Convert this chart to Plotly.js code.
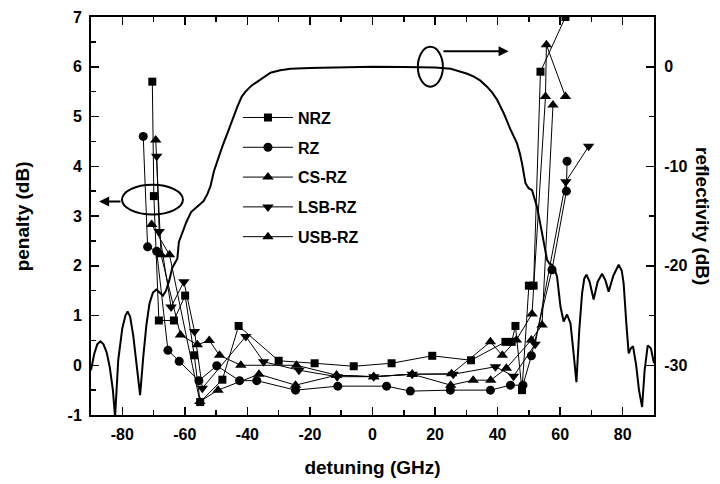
<!DOCTYPE html>
<html>
<head>
<meta charset="utf-8">
<script src="https://cdn.plot.ly/plotly-3.0.1.min.js"></script>
<style>html,body{margin:0;padding:0;background:#fff;}#chart{width:720px;height:484px;}</style>
</head>
<body>
<div id="chart"></div>
<script>
// ---- data ----
const reflX = [-90,-89,-88,-87,-86,-85,-84,-83,-82.3,-81.3,-80,-79,-78.3,-77.5,-76.5,-75.5,-74.3,-73.3,-72.3,-71.3,-70.2,-69.1,-68,-67,-66,-65,-64,-62.4,-61.9,-59.5,-58,-56,-54,-52.8,-51.8,-50.7,-49.6,-48,-46.4,-44.8,-43.2,-41.8,-40.6,-38.7,-36.8,-34.7,-32.6,-29.5,-26.2,-20,-10,0,10,20,25,28.1,30.3,32.4,34.5,36.6,38.3,39.8,42,44.1,46.2,47.1,47.8,48.9,49.9,51,52.6,54.2,55.8,56.6,57.4,58.2,59,60.1,61.1,62.2,63.3,64.2,65.2,66.1,67,67.7,68.4,69.4,70.7,72,73.4,74.5,75.5,77,78.7,79.7,80.3,81.2,81.9,82.6,83.3,84.3,85.2,86.2,87,88,89,90];
const reflY = [-30.5,-28.9,-27.9,-27.6,-27.9,-28.7,-30.2,-32.5,-35.2,-29.5,-26.3,-25.0,-24.6,-25.1,-27.0,-29.5,-33.0,-29.2,-26.0,-23.8,-22.7,-22.4,-22.7,-23.0,-22.5,-21.5,-20.2,-19.3,-17.6,-15.6,-14.6,-14.0,-13.5,-12.8,-12.0,-10.5,-9.4,-8.0,-6.7,-5.3,-4.0,-3.0,-2.5,-1.9,-1.5,-1.0,-0.6,-0.35,-0.2,-0.12,-0.05,0,-0.02,-0.08,-0.2,-0.5,-0.7,-1.0,-1.4,-2.0,-2.6,-3.3,-4.7,-6.3,-7.7,-8.7,-9.7,-11.7,-12.2,-12.4,-14.1,-16.7,-19.4,-19.8,-19.9,-20.3,-21.1,-24.1,-25.6,-24.9,-25.8,-28.5,-31.7,-26.5,-22.8,-21.3,-20.9,-21.6,-23.4,-21.6,-20.8,-21.5,-22.6,-21.0,-19.9,-20.5,-21.8,-26.0,-28.8,-28.3,-28.1,-30.0,-32.5,-34.2,-30.5,-28.0,-28.3,-29.8];

const nrzX = [-70.4,-69.9,-68.3,-63.5,-59.9,-57.0,-55.1,-48.0,-42.8,-30.0,-18.5,-6.0,6.1,19.1,31.5,42.5,44.5,45.7,47.8,50.0,51.5,53.7,61.7];
const nrzY = [5.7,3.4,0.9,0.9,1.4,0.2,-0.74,-0.29,0.79,0.09,0.04,-0.02,0.04,0.19,0.1,0.47,0.47,0.79,-0.5,1.6,1.6,5.9,7.0];

const rzX = [-73.3,-71.9,-69.0,-65.4,-61.8,-55.5,-49.8,-42.5,-37.0,-24.6,-11.1,4.5,12.1,24.9,37.7,44.1,48.1,50.8,57.4,62.0,62.2];
const rzY = [4.6,2.38,2.29,0.3,0.08,-0.31,-0.01,-0.31,-0.31,-0.5,-0.42,-0.42,-0.52,-0.5,-0.5,-0.4,-0.4,0.19,1.92,3.5,4.1];

const csrzX = [-69.3,-67.6,-61.4,-56.0,-52.2,-48.9,-42.1,-24.3,-11.5,0.4,12.7,25.3,37.7,41.5,46.0,51.0,55.3,55.6,61.7];
const csrzY = [4.53,2.22,0.61,0.41,0.5,0.2,0.0,0.0,-0.2,-0.23,-0.18,-0.17,0.47,0.2,0.51,1.03,5.4,6.44,5.4];

const lsbX = [-69.0,-68.2,-64.4,-60.3,-56.9,-54.4,-40.5,-34.8,-23.5,-11.3,0.4,12.7,25.8,39.3,45.1,52.0,61.8,69.1];
const lsbY = [4.2,2.69,1.17,1.68,0.68,-0.46,0.58,0.07,-0.1,-0.23,-0.23,-0.18,-0.18,-0.03,-0.22,0.42,3.69,4.4];

const usbX = [-70.6,-64.9,-55.2,-49.4,-36.3,-24.6,-11.5,0.4,12.7,25.0,32.2,37.8,42.8,50.8,54.2,57.7];
const usbY = [2.83,2.22,-0.73,-0.5,-0.18,-0.4,-0.2,-0.23,-0.18,-0.4,-0.3,-0.3,-0.06,0.51,0.81,5.23];

const seriesNames = ['NRZ','RZ','CS-RZ','LSB-RZ','USB-RZ'];
const leftTicks = [-1,0,1,2,3,4,5,6,7];
const leftTickText = ['-1','0','1','2','3','4','5','6','7'];
const rightTicks = [-30,-20,-10,0];
const rightTickText = ['-30','-20','-10','0'];
const xTicks = [-80,-60,-40,-20,0,20,40,60,80];
const xTickText = ['-80','-60','-40','-20','0','20','40','60','80'];

// ---- traces ----
const FONT = 'Liberation Sans, Arial, sans-serif';
function series(x, y, name, symbol, size, grp) {
  return {x: x, y: y, name: name, type: 'scatter', mode: 'lines+markers',
    line: {color: '#000', width: 1},
    marker: {symbol: symbol, size: size, color: '#000'},
    legendgroup: grp};
}
const traces = [
  {x: reflX, y: reflY, yaxis: 'y2', type: 'scatter', mode: 'lines',
   line: {color: '#000', width: 2}, showlegend: false, hoverinfo: 'skip'},
  series(nrzX, nrzY, seriesNames[0], 'square', 8, 'g1'),
  series(rzX, rzY, seriesNames[1], 'circle', 9, 'g2'),
  series(csrzX, csrzY, seriesNames[2], 'triangle-up', 10, 'g3'),
  series(lsbX, lsbY, seriesNames[3], 'triangle-down', 10, 'g4'),
  series(usbX, usbY, seriesNames[4], 'triangle-up', 10, 'g5')
];

const tickFont = {family: FONT, size: 16, color: '#000', weight: 'bold'};
const titleFont = {family: FONT, size: 19, color: '#000', weight: 'bold'};
const layout = {
  width: 720, height: 484,
  margin: {l: 91, r: 66, t: 17, b: 69},
  paper_bgcolor: '#fff', plot_bgcolor: '#fff',
  font: {family: FONT, color: '#000'},
  showlegend: true,
  legend: {x: 0.261, y: 0.79, xanchor: 'left', yanchor: 'top',
    bgcolor: 'rgba(0,0,0,0)', borderwidth: 0,
    font: {family: FONT, size: 16, color: '#000', weight: 'bold'},
    itemwidth: 50, traceorder: 'grouped', tracegroupgap: 6},
  xaxis: {range: [-90, 90], tickmode: 'array', tickvals: xTicks, ticktext: xTickText,
    ticks: 'inside', ticklen: 8, tickwidth: 1.5, tickcolor: '#000', ticklabelstandoff: 4,
    minor: {dtick: 10, tick0: 0, ticks: 'inside', ticklen: 5, tickwidth: 1.5, tickcolor: '#000'},
    showline: true, linewidth: 2, linecolor: '#000', mirror: 'ticks',
    showgrid: false, zeroline: false, tickfont: tickFont,
    title: {text: 'detuning (GHz)', font: titleFont, standoff: 18}},
  yaxis: {range: [-1, 7], tickmode: 'array', tickvals: leftTicks, ticktext: leftTickText,
    ticks: 'inside', ticklen: 8, tickwidth: 1.5, tickcolor: '#000', ticklabelstandoff: 4,
    minor: {dtick: 0.5, tick0: 0, ticks: 'inside', ticklen: 5, tickwidth: 1.5, tickcolor: '#000'},
    showline: true, linewidth: 2, linecolor: '#000', mirror: true,
    showgrid: false, zeroline: false, tickfont: tickFont},
  yaxis2: {range: [-35, 5], overlaying: 'y', side: 'right', tickmode: 'array',
    tickvals: rightTicks, ticktext: rightTickText,
    ticks: 'inside', ticklen: 8, tickwidth: 1.5, tickcolor: '#000', ticklabelstandoff: 5,
    minor: {dtick: 5, tick0: 0, ticks: 'inside', ticklen: 5, tickwidth: 1.5, tickcolor: '#000'},
    showline: true, linewidth: 2, linecolor: '#000',
    showgrid: false, zeroline: false, tickfont: tickFont},
  shapes: [
    {type: 'circle', xref: 'x', yref: 'y', x0: -80.1, x1: -60.6, y0: 3.03, y1: 3.63,
     line: {color: '#000', width: 2}},
    {type: 'circle', xref: 'x', yref: 'y', x0: 14.5, x1: 22.5, y0: 5.6, y1: 6.4,
     line: {color: '#000', width: 2}}
  ],
  annotations: [
    {xref: 'x', yref: 'y', x: -87.4, y: 3.29, ax: -80.1, ay: 3.29, axref: 'x', ayref: 'y',
     text: '', showarrow: true, arrowhead: 2, arrowsize: 1, arrowwidth: 2, arrowcolor: '#000'},
    {xref: 'x', yref: 'y', x: 43.5, y: 6.31, ax: 22.2, ay: 6.31, axref: 'x', ayref: 'y',
     text: '', showarrow: true, arrowhead: 2, arrowsize: 1, arrowwidth: 2, arrowcolor: '#000'},
    {xref: 'paper', yref: 'paper', x: -0.122, y: 0.5, xanchor: 'center', yanchor: 'middle',
     text: 'penalty (dB)', textangle: -90, showarrow: false, font: titleFont},
    {xref: 'paper', yref: 'paper', x: 1.087, y: 0.5, xanchor: 'center', yanchor: 'middle',
     text: 'reflectivity (dB)', textangle: 90, showarrow: false, font: titleFont}
  ]
};
Plotly.newPlot('chart', traces, layout, {staticPlot: true, displayModeBar: false});
</script>
</body>
</html>
